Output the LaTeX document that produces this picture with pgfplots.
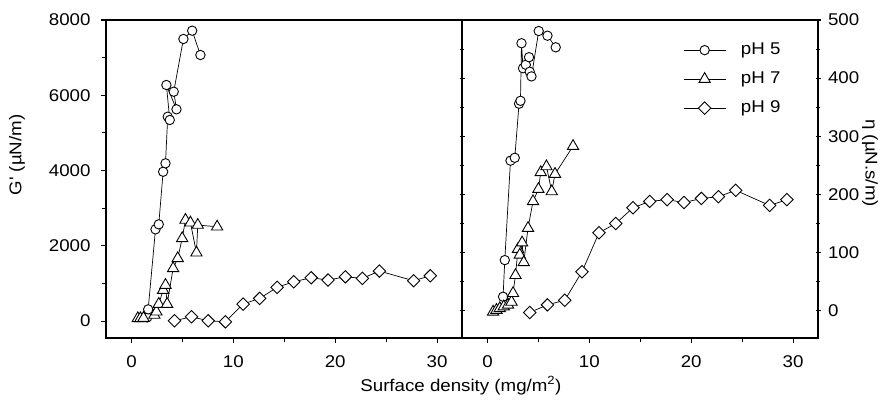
\documentclass[border=0pt]{standalone}
\usepackage{fontspec}
\setmainfont{Liberation Sans}[FakeStretch=1.1]
\usepackage{pgfplots}
\pgfplotsset{compat=1.18}

\newcommand{\chartfont}{\fontsize{17}{20}\selectfont}

\pgfplotsset{
  panel/.style={
    scale only axis, width=356pt, height=318pt,
    xmin=-2.5, xmax=32.45,
    xtick={0,10,20,30}, minor xtick={5,15,25},
    xtick pos=bottom,
    tick align=outside,
    major tick length=5pt, minor tick length=4pt,
    axis line style={line width=1.6pt},
    every tick/.style={black, line width=1.1pt},
    /pgf/number format/assume math mode=true,
    /pgf/number format/1000 sep={},
    every axis plot/.append style={black, line width=0.7pt},
  },
  pH5/.style={mark=*, mark size=4.7pt, mark options={fill=white, line width=0.9pt}},
  pH7/.style={mark=triangle*, mark size=6.5pt, mark options={fill=white, line width=0.9pt}},
  pH9/.style={mark=square*, mark size=4.4pt, mark options={fill=white, line width=0.9pt, rotate=45}},
}

\begin{document}
\begin{tikzpicture}
\useasboundingbox (0,0) rectangle (890pt,405pt);

% left panel: G'
\begin{axis}[panel,
  at={(106pt,67pt)}, anchor=south west,
  ymin=-450, ymax=8000,
  ytick={0,2000,4000,6000,8000}, minor ytick={1000,3000,5000,7000},
  ytick pos=left,
  every x tick label/.style={font=\chartfont, anchor=north},
  every y tick label/.style={font=\chartfont, anchor=east, xshift=-7pt},
  xticklabel style={yshift=-9pt},
  xlabel={Surface density (mg/m\textsuperscript{2})},
  every axis x label/.style={at={(axis description cs:0.997,-0.15)}, anchor=center, font=\chartfont},
  ylabel={G\textquotesingle{} (µN/m)},
  every axis y label/.style={at={(axis description cs:-0.25,0.576)}, rotate=90, anchor=center, font=\chartfont},
]
\addplot[pH5] coordinates {
  (1.55,98) (1.64,311) (2.36,2437) (2.68,2570) (3.11,3968) (3.34,4192)
  (3.56,5430) (3.76,5343) (3.43,6273) (4.42,5627) (4.15,6095)
  (5.10,7496) (5.96,7716) (6.77,7070)
};
\addplot[pH7] coordinates {
  (0.62,72) (0.88,72) (1.18,80) (2.25,160) (2.45,247) (2.68,452)
  (3.11,824) (3.34,957) (3.50,452) (4.09,1401) (4.54,1667) (4.98,2198)
  (5.30,2685) (5.79,2613) (6.38,1815) (6.51,2552) (8.41,2506)
};
\addplot[pH9] coordinates {
  (4.22,8) (5.89,114) (7.53,8) (9.22,-19) (10.96,452) (12.59,603)
  (14.30,896) (15.93,1045) (17.64,1151) (19.30,1090) (21.00,1177)
  (22.67,1135) (24.34,1329) (27.70,1071) (29.34,1204)
};
\end{axis}

% right panel: eta
\begin{axis}[panel,
  at={(462pt,67pt)}, anchor=south west,
  ymin=-47, ymax=500,
  ytick={0,100,200,300,400,500}, minor ytick={50,150,250,350,450},
  ytick pos=both, yticklabel pos=right,
  ytick align=center,
  every x tick label/.style={font=\chartfont, anchor=north},
  every y tick label/.style={font=\chartfont, anchor=west, xshift=4pt},
  xticklabel style={yshift=-9pt},
  ylabel={η (µN.s/m)},
  every axis y label/.style={at={(axis description cs:1.146,0.55)}, rotate=-90, anchor=center, font=\chartfont},
  legend image code/.code={\draw[mark repeat=2,mark phase=2,#1] plot coordinates {(0pt,0pt) (21pt,0pt) (42pt,0pt)};},
  legend cell align=left,
  legend style={at={(axis description cs:0.621,0.931)}, anchor=north west,
    draw=none, fill=none, inner sep=0pt, row sep=13pt, column sep=15pt,
    font=\chartfont, nodes={inner sep=0pt, text height=12pt, text depth=4pt}},
]
\addplot[pH5] coordinates {
  (1.53,24) (1.70,87) (2.26,258) (2.68,263) (3.10,356) (3.24,361)
  (3.34,460) (3.49,417) (3.76,423) (4.08,436) (4.15,411) (4.32,403)
  (5.03,481) (5.89,473) (6.70,453)
};
\addlegendentry{pH 5}
\addplot[pH7] coordinates {
  (0.55,-2) (0.88,1) (1.21,4) (1.60,7) (2.02,10) (2.36,15) (2.51,30)
  (2.75,61) (3.00,106) (3.17,96) (3.40,117) (3.56,83) (3.98,142)
  (4.47,188) (5.00,209) (5.23,238) (5.79,248) (6.31,205) (6.63,235)
  (8.40,283)
};
\addlegendentry{pH 7}
\addplot[pH9] coordinates {
  (4.15,-3) (5.89,10) (7.59,18) (9.28,67) (10.95,134) (12.59,150)
  (14.29,177) (15.93,188) (17.63,191) (19.29,186) (21.00,193)
  (22.67,196) (24.37,207) (27.70,181) (29.40,191)
};
\addlegendentry{pH 9}
\end{axis}
\end{tikzpicture}
\end{document}
